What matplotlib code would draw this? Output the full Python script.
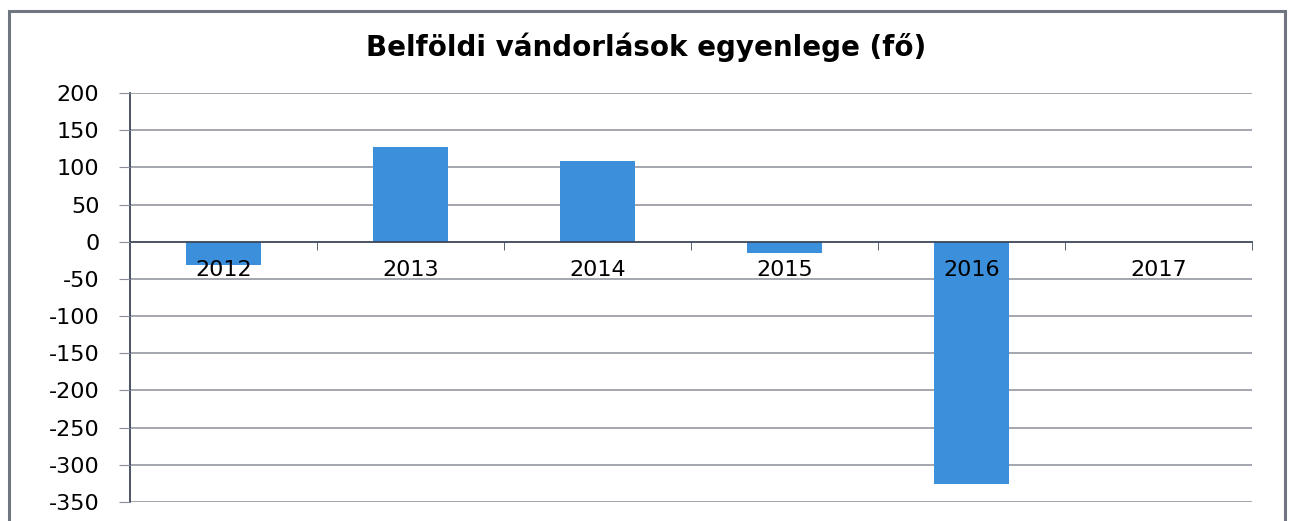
import matplotlib.pyplot as plt
from matplotlib.patches import Rectangle

years = ["2012", "2013", "2014", "2015", "2016", "2017"]
balance = [-31, 128, 109, -15, -326, 0]
y_ticks = [200, 150, 100, 50, 0, -50, -100, -150, -200, -250, -300, -350]

BAR_COLOR = "#3b8fdb"
GRID_COLOR = "#8a8d9a"
AXIS_COLOR = "#3c4658"

fig = plt.figure(figsize=(12.93, 5.21), dpi=100)
ax = fig.add_axes([130 / 1293, 1 - 502 / 521, 1122 / 1293, 409 / 521])

# chart frame
fig.patches.append(Rectangle((9 / 1293, -0.05), 1276 / 1293, 1.05 - 11 / 521,
                             transform=fig.transFigure, fill=False,
                             edgecolor="#6f7680", linewidth=2.2))

x = list(range(len(years)))
for v in y_ticks:
    if v != 0:
        ax.axhline(v, color=GRID_COLOR, linewidth=1.1, zorder=0.5)
ax.bar(x, balance, width=0.4, color=BAR_COLOR, zorder=1)
# axis (and its labels) above the bars, as in the original
ax.set_axisbelow(False)

ax.set_xlim(-0.5, len(years) - 0.5)
ax.set_ylim(-350, 200)
ax.set_yticks(y_ticks)
ax.set_yticklabels([str(v) for v in y_ticks], fontsize=16)
ax.tick_params(axis="y", length=8, color=GRID_COLOR, pad=14)

ax.spines["top"].set_visible(False)
ax.spines["right"].set_visible(False)
ax.spines["left"].set_color(AXIS_COLOR)
ax.spines["left"].set_linewidth(1.3)
ax.spines["bottom"].set_position(("data", 0))
ax.spines["bottom"].set_color(AXIS_COLOR)
ax.spines["bottom"].set_linewidth(1.3)

ax.set_xticks(x)
ax.set_xticklabels(years, fontsize=16)
ax.set_xticks([i + 0.5 for i in x], minor=True)
ax.tick_params(axis="x", which="major", length=0, pad=13)
ax.tick_params(axis="x", which="minor", length=6, direction="out", color=AXIS_COLOR)

fig.text(0.5, 1 - 47 / 521, "Belföldi vándorlások egyenlege (fő)", ha="center",
         va="center", fontsize=20, fontweight="bold")

fig.savefig("out.png", dpi=100)
